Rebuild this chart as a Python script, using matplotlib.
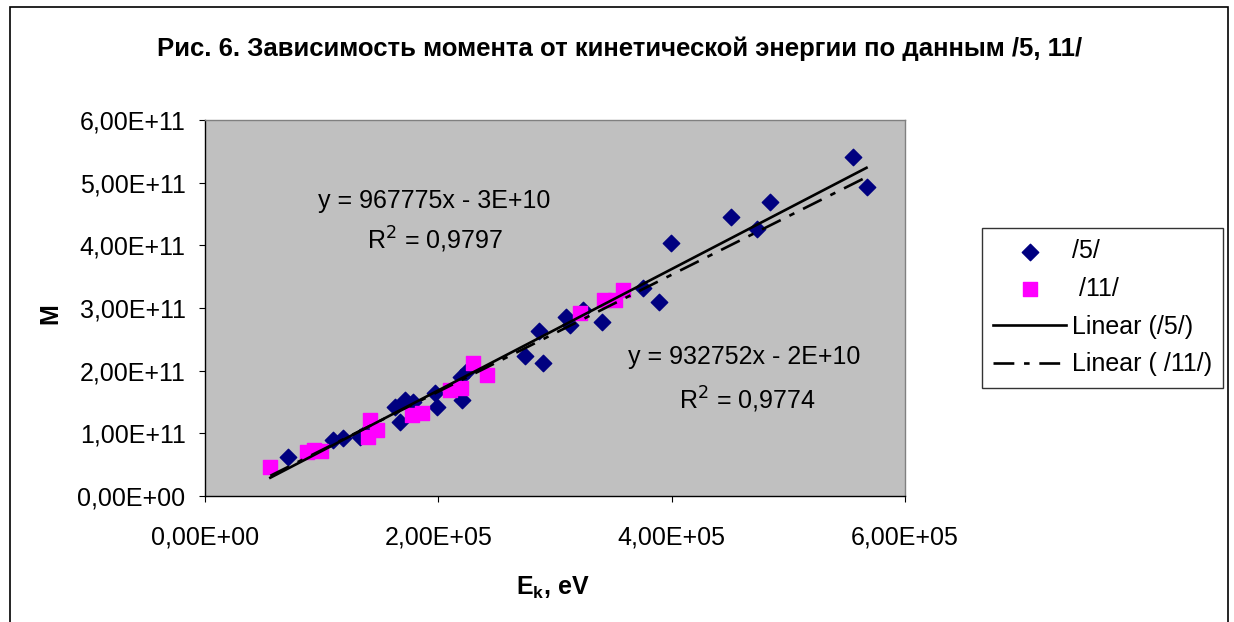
import matplotlib.pyplot as plt
import matplotlib.patches as mpatches
import numpy as np

plt.rcParams["font.family"] = ["Liberation Sans", "DejaVu Sans"]
plt.rcParams["lines.scale_dashes"] = False

# series /5/  (E_k in eV, M)
x5 = [0.71e5, 1.10e5, 1.18e5, 1.33e5, 1.38e5, 1.63e5, 1.67e5, 1.71e5, 1.78e5,
      1.97e5, 1.99e5, 2.20e5, 2.19e5, 2.25e5, 2.74e5, 2.86e5, 2.90e5, 3.09e5,
      3.13e5, 3.24e5, 3.40e5, 3.75e5, 3.89e5, 3.99e5, 4.51e5, 4.73e5, 4.84e5,
      5.55e5, 5.67e5]
y5 = [0.62e11, 0.89e11, 0.92e11, 0.94e11, 1.02e11, 1.42e11, 1.18e11, 1.53e11,
      1.50e11, 1.64e11, 1.42e11, 1.53e11, 1.90e11, 2.01e11, 2.23e11, 2.63e11,
      2.12e11, 2.86e11, 2.73e11, 2.97e11, 2.78e11, 3.32e11, 3.10e11, 4.04e11,
      4.45e11, 4.26e11, 4.69e11, 5.41e11, 4.93e11]

# series /11/
x11 = [0.56e5, 0.87e5, 0.93e5, 0.99e5, 1.40e5, 1.41e5, 1.47e5, 1.77e5, 1.86e5,
       2.10e5, 2.19e5, 2.30e5, 2.42e5, 3.21e5, 3.42e5, 3.51e5, 3.58e5]
y11 = [0.46e11, 0.70e11, 0.73e11, 0.72e11, 0.94e11, 1.21e11, 1.05e11, 1.29e11,
       1.32e11, 1.69e11, 1.72e11, 2.12e11, 1.93e11, 2.92e11, 3.13e11, 3.13e11,
       3.29e11]

# linear trends (from the chart's equations)
fit_slope = [967775, 932752]
fit_intercept = [-2.5e10, -2e10]
fit_range = [0.56e5, 5.67e5]

xticks = [0, 2e5, 4e5, 6e5]
xtick_labels = ["0,00E+00", "2,00E+05", "4,00E+05", "6,00E+05"]
yticks = [0, 1e11, 2e11, 3e11, 4e11, 5e11, 6e11]
ytick_labels = ["0,00E+00", "1,00E+11", "2,00E+11", "3,00E+11",
                "4,00E+11", "5,00E+11", "6,00E+11"]

fig = plt.figure(figsize=(12.34, 6.22), dpi=100)
fig.patch.set_facecolor("white")
fig.patches.append(mpatches.Rectangle((0.008, -0.01), 0.987, 0.998,
                                      transform=fig.transFigure, fill=False,
                                      edgecolor="black", linewidth=1.2))

ax = fig.add_axes([205 / 1234, 126 / 622, 700 / 1234, 376 / 622])
ax.set_facecolor("#C0C0C0")
for s in ["top", "right"]:
    ax.spines[s].set_color("#808080")
    ax.spines[s].set_linewidth(1)
for s in ["left", "bottom"]:
    ax.spines[s].set_color("black")
    ax.spines[s].set_linewidth(1)

ax.scatter(x5, y5, marker="D", s=70, color="#000080", zorder=3, label="/5/")
ax.scatter(x11, y11, marker="s", s=90, color="#FF00FF", zorder=3, label=" /11/")

xf = np.array(fit_range)
ax.plot(xf, fit_slope[0] * xf + fit_intercept[0], color="black", lw=1.9,
        zorder=4, label="Linear (/5/)")
ax.plot(xf, fit_slope[1] * xf + fit_intercept[1], color="black", lw=1.9,
        dashes=(15, 7, 4, 7), zorder=4, label="Linear ( /11/)")

ax.set_xlim(0, 6e5)
ax.set_ylim(0, 6e11)
ax.set_xticks(xticks)
ax.set_xticklabels(xtick_labels)
ax.set_yticks(yticks)
ax.set_yticklabels(ytick_labels)
ax.tick_params(axis="both", labelsize=18, length=4, direction="out")
ax.tick_params(axis="x", pad=17)
ax.tick_params(axis="y", pad=10)

ax.text(0.328, 0.785, "y = 967775x - 3E+10", transform=ax.transAxes,
        ha="center", va="center", fontsize=18)
ax.text(0.328, 0.68, "R$^2$ = 0,9797", transform=ax.transAxes,
        ha="center", va="center", fontsize=18)
ax.text(0.77, 0.37, "y = 932752x - 2E+10", transform=ax.transAxes,
        ha="center", va="center", fontsize=18)
ax.text(0.775, 0.255, "R$^2$ = 0,9774", transform=ax.transAxes,
        ha="center", va="center", fontsize=18)

fig.text(0.502, 0.922, "Рис. 6. Зависимость момента от кинетической энергии по данным /5, 11/",
         ha="center", va="center", fontsize=18.5, fontweight="bold")
fig.text(0.041, 0.495, "M", rotation=90, ha="center", va="center",
         fontsize=18, fontweight="bold")
fig.text(0.448, 0.055, "E$_\\mathregular{k}$, eV", ha="center", va="center",
         fontsize=18, fontweight="bold")

leg = ax.legend(loc="upper left", bbox_to_anchor=(982 / 1234, 394 / 622),
                bbox_transform=fig.transFigure, borderaxespad=0, fontsize=18,
                frameon=True, fancybox=False, edgecolor="black",
                handlelength=2.9, borderpad=0.45, labelspacing=0.55,
                handletextpad=0.25)
leg.get_frame().set_linewidth(1)

fig.savefig("out.png", dpi=100, facecolor="white")
